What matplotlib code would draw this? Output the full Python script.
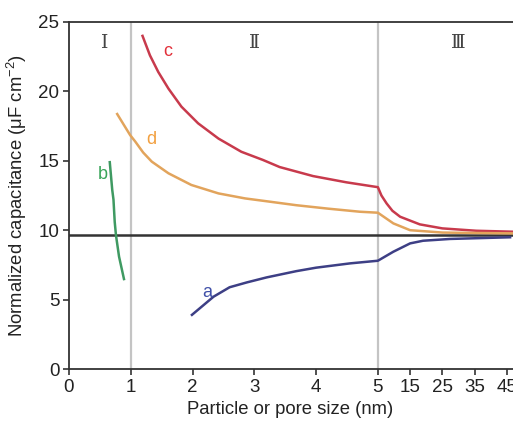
import numpy as np
import matplotlib
matplotlib.use("Agg")
import matplotlib.pyplot as plt

# ---- data (x in nm, y in uF cm^-2) ----
c_x = [1.19, 1.31, 1.445, 1.61, 1.82, 2.09, 2.42, 2.79, 3.14, 3.41, 3.95, 4.49, 5.0,
       6.1, 7.7, 9.5, 11.9, 18, 25, 35.5, 47]
c_y = [24.0, 22.6, 21.4, 20.2, 18.9, 17.7, 16.6, 15.65, 15.06, 14.55, 13.9, 13.45, 13.1,
       12.5, 11.93, 11.4, 10.97, 10.42, 10.13, 9.96, 9.89]

d_x = [0.78, 0.9, 0.99, 1.07, 1.2, 1.34, 1.61, 1.98, 2.42, 2.85, 3.14, 3.68, 4.2, 4.71, 5.0,
       9.8, 15, 25, 35, 47]
d_y = [18.37, 17.5, 16.85, 16.4, 15.6, 14.94, 14.1, 13.26, 12.65, 12.29, 12.12, 11.8, 11.55, 11.33, 11.26,
       10.49, 10.0, 9.83, 9.8, 9.77]

a_x = [1.99, 2.34, 2.6, 2.88, 3.2, 3.68, 4.0, 4.55, 5.0, 9.8, 15, 19, 27.4, 46]
a_y = [3.9, 5.21, 5.89, 6.24, 6.6, 7.05, 7.3, 7.61, 7.8, 8.45, 9.05, 9.24, 9.37, 9.49]

b_x = [0.66, 0.70, 0.72, 0.74, 0.76, 0.81, 0.89]
b_y = [14.9, 12.9, 12.2, 10.6, 9.65, 8.1, 6.48]

ref_level = 9.65
region_bounds = [1, 5]
x_ticks = [0, 1, 2, 3, 4, 5, 15, 25, 35, 45]
y_ticks = [0, 5, 10, 15, 20, 25]
regions = ["Ⅰ", "Ⅱ", "Ⅲ"]
region_pos = [0.57, 3.0, 29.8]

K = 0.0522
def fwd(x):
    x = np.asarray(x, dtype=float)
    return np.where(x <= 5, x, 5 + (x - 5) * K)
def inv(u):
    u = np.asarray(u, dtype=float)
    return np.where(u <= 5, u, 5 + (u - 5) / K)

plt.rcParams['font.family'] = ['Liberation Sans', 'DejaVu Sans']
plt.rcParams['mathtext.fontset'] = 'custom'
plt.rcParams['mathtext.rm'] = 'Liberation Sans'
plt.rcParams['mathtext.it'] = 'Liberation Sans:italic'

fig = plt.figure(figsize=(5.13, 4.21), dpi=100)
ax = fig.add_axes([69/513, 52/421, 1 - 69/513, 347/421])
ax.set_xscale('function', functions=(fwd, inv))
ax.set_xlim(0, 46.9)
ax.set_ylim(0, 25)

for xb in region_bounds:
    ax.axvline(xb, color='#c4c4c4', lw=1.6, zorder=1)
ax.axhline(ref_level, color='#333333', lw=1.8, zorder=2)

ax.plot(c_x, c_y, color='#c83a4c', lw=1.8, zorder=3)
ax.plot(d_x, d_y, color='#e2a45c', lw=1.8, zorder=3)
ax.plot(a_x, a_y, color='#3d3f85', lw=1.8, zorder=3)
ax.plot(b_x, b_y, color='#3f9a62', lw=1.8, zorder=3)

ax.text(1.6, 22.9, 'c', color='#e2303a', fontsize=13, ha='center', va='center')
ax.text(1.34, 16.55, 'd', color='#f2a040', fontsize=13, ha='center', va='center')
ax.text(0.555, 13.98, 'b', color='#3aa55a', fontsize=13, ha='center', va='center')
ax.text(2.24, 5.5, 'a', color='#4050a8', fontsize=13, ha='center', va='center')

for lab, xp in zip(regions, region_pos):
    ax.text(xp, 23.5, lab, fontsize=13.5, color='#444444', ha='center', va='center',
            family=['DejaVu Serif', 'Noto Sans CJK SC'])

ax.set_xticks(x_ticks)
ax.set_xticklabels([str(t) for t in x_ticks])
ax.set_yticks(y_ticks)
ax.tick_params(axis='both', direction='out', length=4, width=1.2, color='#333333',
               labelsize=13.5, labelcolor='#222222', pad=3)

for s in ['left', 'bottom', 'top']:
    ax.spines[s].set_color('#333333')
    ax.spines[s].set_linewidth(1.3)
ax.spines['right'].set_visible(False)

ax.set_xlabel('Particle or pore size (nm)', fontsize=13.3, color='#222222')
ax.set_ylabel('Normalized capacitance (μF cm$^{-2}$)', fontsize=13.3, color='#222222')
ax.xaxis.set_label_coords(0.498, -0.093)
ax.yaxis.set_label_coords(-0.09, 0.5)

fig.savefig('out.png', dpi=100)
